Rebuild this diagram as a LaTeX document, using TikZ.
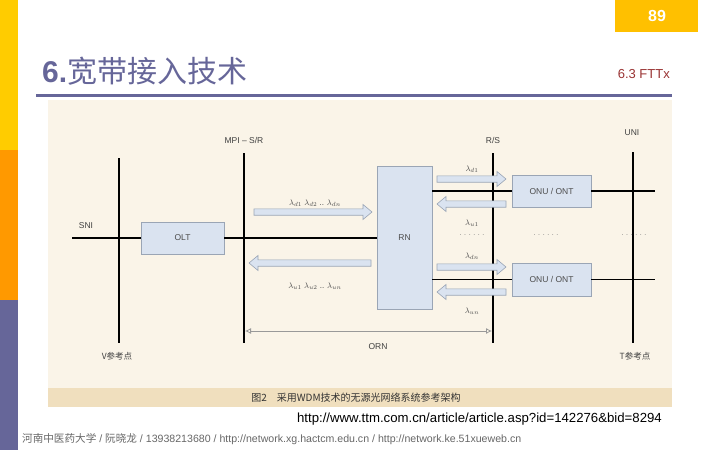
\documentclass[tikz,border=0pt]{standalone}
\usepackage{fontspec}
\setmainfont{Liberation Sans}
\newfontfamily\cjk{Noto Sans CJK SC}
\usetikzlibrary{arrows.meta}
\definecolor{giallo}{HTML}{FFCC00}
\definecolor{arancio}{HTML}{FF9900}
\definecolor{viola}{HTML}{666699}
\definecolor{numbox}{HTML}{FFC000}
\definecolor{rosso}{HTML}{993333}
\definecolor{crema}{HTML}{FAF4E8}
\definecolor{fascia}{HTML}{F0DFBE}
\definecolor{boxfill}{HTML}{DAE3F0}
\definecolor{boxedge}{HTML}{9AA5B5}
\begin{document}
\begin{tikzpicture}[x=1pt,y=-1pt,>=Latex,
	fibra/.style={black, line width=1.5pt},
	unit/.style={draw=boxedge, fill=boxfill, line width=0.6pt, text=black!70, font=\fontsize{8.5}{9}\selectfont},
	blockarrow/.style={draw=boxedge, fill=boxfill, line width=0.6pt},
	etich/.style={text=black!75, font=\fontsize{8.5}{9}\selectfont},
	lam/.style={text=black!70, font=\fontsize{8}{8}\selectfont},
	punti/.style={text=black!55, font=\fontsize{7}{7}\selectfont},
	]
	\useasboundingbox (0,0) rectangle (720,450);
	% ── Parametri ──
	\def\hb{3.2}\def\hh{7.5}\def\hl{9}
	% ── Frecce a blocco ──
	\def\frecciaR#1#2#3{%
		\draw[blockarrow] (#1,#3-\hb) -- (#2-\hl,#3-\hb) -- (#2-\hl,#3-\hh) -- (#2,#3)
		-- (#2-\hl,#3+\hh) -- (#2-\hl,#3+\hb) -- (#1,#3+\hb) -- cycle;}
	\def\frecciaL#1#2#3{%
		\draw[blockarrow] (#1,#3-\hb) -- (#2+\hl,#3-\hb) -- (#2+\hl,#3-\hh) -- (#2,#3)
		-- (#2+\hl,#3+\hh) -- (#2+\hl,#3+\hb) -- (#1,#3+\hb) -- cycle;}

	% ===================== cornice della pagina =====================
	\fill[giallo] (0,0) rectangle (18,150);
	\fill[arancio] (0,150) rectangle (18,300);
	\fill[viola] (0,300) rectangle (18,450);
	\fill[numbox] (615,0) rectangle (698,32);
	\node[text=white, font=\fontsize{16}{16}\selectfont\bfseries] (num) at (657,16) {89};
	\node[anchor=base west, text=viola, inner sep=0] (titolo) at (42,82)
		{\fontsize{30}{30}\selectfont\textbf{6.}\cjk 宽带接入技术};
	\node[anchor=east, text=rosso, font=\fontsize{13}{13}\selectfont, inner sep=0] (sez) at (670,74) {6.3 FTTx};
	\draw[viola, line width=3pt] (36,95) -- (672,95);
	\fill[crema] (48,100) rectangle (672,388);
	\fill[fascia] (48,388) rectangle (672,407);
	\node[text=black!80, font=\fontsize{10}{10}\selectfont\cjk] (didasc) at (356,397.5) {图2\quad 采用WDM技术的无源光网络系统参考架构};

	% ===================== linee di riferimento =====================
	\coordinate (Vt) at (119,158);   \coordinate (Vb) at (119,343);
	\coordinate (Mt) at (244,153);   \coordinate (Mb) at (244,343);
	\coordinate (Rt) at (493,153);   \coordinate (Rb) at (493,343);
	\coordinate (Ut) at (633,152);   \coordinate (Ub) at (633,343);
	\draw[fibra] (Vt) -- (Vb);
	\draw[fibra] (Mt) -- (Mb);
	\draw[fibra] (Rt) -- (Rb);
	\draw[fibra] (Ut) -- (Ub);
	\node[etich] (mpi) at (244,140) {MPI – S/R};
	\node[etich] (rs) at (493,140) {R/S};
	\node[etich] (uni) at (632,133) {UNI};
	\node[etich] (sni) at (86,226) {SNI};
	\node[etich, font=\fontsize{8.5}{9}\selectfont\cjk] (vref) at (117,356) {V参考点};
	\node[etich, font=\fontsize{8.5}{9}\selectfont\cjk] (tref) at (635,356) {T参考点};

	% ===================== apparati =====================
	\node[unit, minimum width=83, minimum height=32] (olt) at (182.5,238) {OLT};
	\node[unit, minimum width=55, minimum height=143] (rn) at (404.5,237.5) {RN};
	\node[unit, minimum width=79, minimum height=32] (onu1) at (551.5,191) {ONU / ONT};
	\node[unit, minimum width=79, minimum height=33] (onu2) at (551.5,279.5) {ONU / ONT};
	\coordinate (sniL) at (72,238);
	\coordinate (uniA) at (655,191);
	\coordinate (uniB) at (655,279.5);
	\draw[fibra] (sniL) -- (olt.west);
	\draw[fibra] (olt.east) -- (rn.west |- olt.east);
	\draw[fibra] (rn.east |- onu1.west) -- (onu1.west);
	\draw[fibra] (rn.east |- onu2.west) -- (onu2.west);
	\draw[fibra] (onu1.east) -- (uniA);
	\draw[fibra] (onu2.east) -- (uniB);

	% ===================== lunghezze d'onda =====================
	\frecciaR{254}{372}{212}
	\frecciaL{371}{249}{263}
	\node[lam] (ld) at (315,203) {$\lambda_{d1}\ \lambda_{d2}$ .. $\lambda_{dn}$};
	\node[lam] (lu) at (315,286) {$\lambda_{u1}\ \lambda_{u2}$ .. $\lambda_{un}$};
	\frecciaR{437}{506}{179}
	\frecciaL{506}{437}{204}
	\frecciaR{437}{506}{267}
	\frecciaL{506}{437}{292}
	\node[lam] (ld1) at (472,169) {$\lambda_{d1}$};
	\node[lam] (lu1) at (472,223) {$\lambda_{u1}$};
	\node[lam] (ldn) at (472,256) {$\lambda_{dn}$};
	\node[lam] (lun) at (472,311) {$\lambda_{un}$};
	\foreach \x/\n in {472/a,546/b,634/c}
		\node[punti] (dots\n) at (\x,235) {. . . . . .};

	% ===================== ORN =====================
	\coordinate (orL) at (245,331);
	\coordinate (orR) at (492,331);
	\draw[black!40, line width=0.8pt, {Latex[open,length=6pt,width=6pt]}-{Latex[open,length=6pt,width=6pt]}] (orL) -- (orR);
	\node[etich] (orn) at (378,347) {ORN};

	% ===================== fonti =====================
	\node[anchor=east, font=\fontsize{13.2}{14}\selectfont, inner sep=0] (url) at (662,419)
		{http://www.ttm.com.cn/article/article.asp?id=142276\&bid=8294};
	\node[anchor=west, text=black!60, font=\fontsize{10.6}{11}\selectfont, inner sep=0] (piede) at (22,439)
		{{\cjk 河南中医药大学} / {\cjk 阮晓龙} / 13938213680 / http://network.xg.hactcm.edu.cn / http://network.ke.51xueweb.cn};
\end{tikzpicture}
\end{document}
